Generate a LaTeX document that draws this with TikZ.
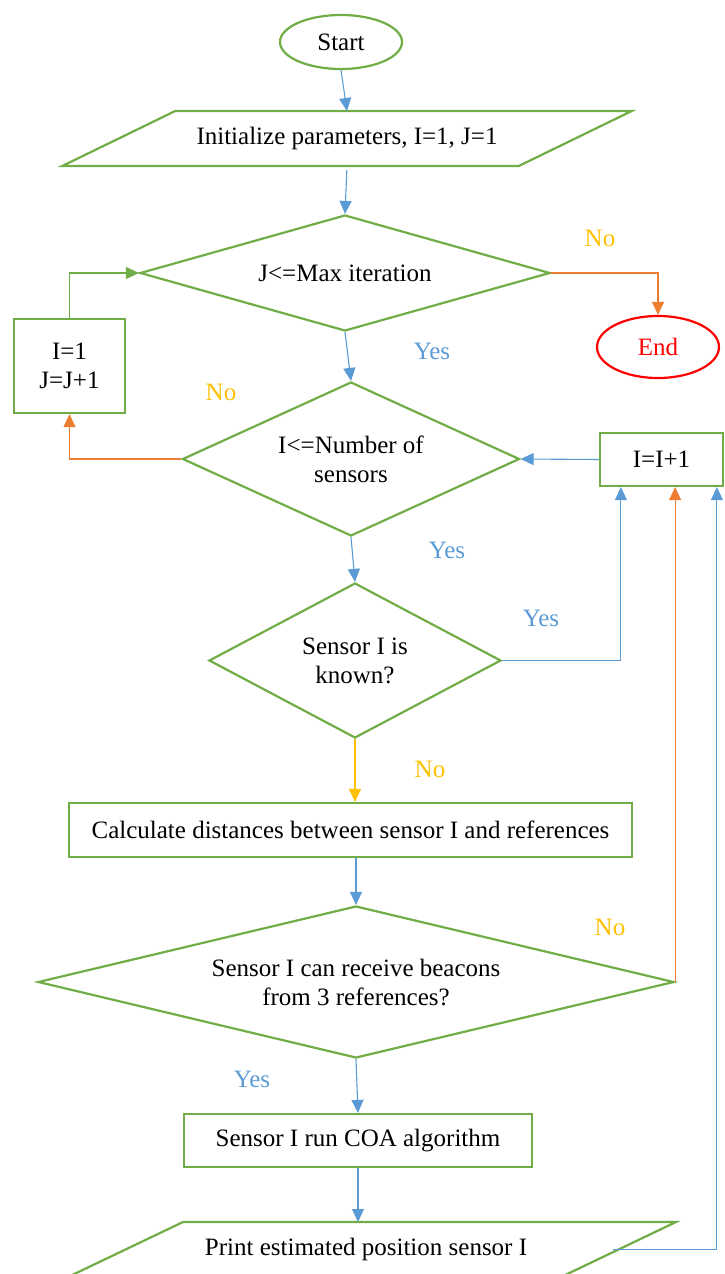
\documentclass[tikz,border=0pt]{standalone}
\usepackage{fontspec}
\setmainfont{Liberation Serif}
\usetikzlibrary{arrows.meta,shapes.geometric,calc}
\definecolor{cgreen}{HTML}{70AD47}
\definecolor{cblue}{HTML}{5B9BD5}
\definecolor{corange}{HTML}{ED7D31}
\definecolor{cyellow}{HTML}{FFC000}
\definecolor{cred}{HTML}{FF0000}
\begin{document}
\begin{tikzpicture}[x=1pt,y=-1pt,
  font=\fontsize{25}{29}\selectfont,
  boxn/.style={draw=cgreen, line width=2.2pt, rectangle, inner sep=0pt, align=center},
  dia/.style={draw=cgreen, line width=2.2pt, diamond, inner sep=0pt},
  term/.style={ellipse, line width=2.2pt, inner sep=0pt},
  para/.style={rectangle, draw=none, inner sep=0pt, outer sep=0pt},
  paraline/.style={draw=cgreen, line width=2.2pt, line join=miter},
  conn/.style={line width=1.1pt, -{Triangle[length=13pt,width=12pt]}},
  bconn/.style={conn, draw=cblue},
  oconn/.style={conn, draw=corange},
  yconn/.style={conn, draw=cyellow},
  gconn/.style={conn, draw=cgreen},
  yeslab/.style={text=cblue, inner sep=0pt},
  nolab/.style={text=cyellow, inner sep=0pt}
]
\useasboundingbox (0,0) rectangle (724,1274);
\clip (0,0) rectangle (724,1274);

% nodes
\node[term, draw=cgreen, minimum width=122pt, minimum height=54pt] (start) at (341,42) {Start};
\node[para, minimum width=456.5pt, minimum height=55pt] (init) at (347,138.5) {Initialize parameters, I=1, J=1};
\draw[paraline] ($(init.north west)+(56.5,0)$) -- ($(init.north east)+(56.5,0)$) -- ($(init.south east)+(-56.5,0)$) -- ($(init.south west)+(-56.5,0)$) -- cycle;

\node[dia, minimum width=410pt, minimum height=116pt, label={[align=center]center:{J<=Max iteration}}] (d1) at (345,273) {};
\node[term, draw=cred, text=cred, minimum width=122pt, minimum height=62pt] (endn) at (658,347) {End};
\node[boxn, minimum width=111pt, minimum height=94pt] (box1) at (69.5,366) {I=1\\J=J+1};

\node[dia, minimum width=337pt, minimum height=154pt, label={[align=center]center:{I<=Number of\\sensors}}] (d2) at (351,459) {};
\node[boxn, minimum width=123pt, minimum height=53pt] (inc) at (661.5,459.5) {I=I+1};

\node[dia, minimum width=292pt, minimum height=155pt, label={[align=center]center:{Sensor I is\\known?}}] (d3) at (355,660.5) {};
\node[boxn, minimum width=563pt, minimum height=54pt] (calc) at (350.5,830) {Calculate distances between sensor I and references};

\node[dia, minimum width=636pt, minimum height=152pt, label={[align=center]center:{Sensor I can receive beacons\\from 3 references?}}] (d4) at (356,982) {};
\node[boxn, minimum width=348pt, minimum height=53pt] (coa) at (358,1140.5) {Sensor I run COA algorithm};

\node[para, minimum width=493pt, minimum height=55pt, label={[xshift=-6pt]center:{Print estimated position sensor I}}] (print) at (372,1249.5) {};
\draw[paraline] ($(print.north west)+(57.5,0)$) -- ($(print.north east)+(57.5,0)$) -- ($(print.south east)+(-57.5,0)$) -- ($(print.south west)+(-57.5,0)$) -- cycle;

% connectors
\draw[bconn] (start.south) -- (init.north);
\draw[bconn, shorten <=4pt] (init.south) -- (d1.north);
\draw[oconn] (d1.east) -| (endn.north);
\draw[bconn] (d1.south) -- (d2.north);
\draw[oconn] (d2.west) -| (box1.south);
\draw[gconn] (box1.north) |- (d1.west);
\draw[bconn] (inc.west) -- (d2.east);
\draw[bconn] (d2.south) -- (d3.north);
\draw[bconn] (d3.east) -| ([xshift=22pt]inc.south west);
\draw[yconn] (d3.south) -- (d3.south |- calc.north);
\draw[bconn] (d4.north |- calc.south) -- (d4.north);
\draw[oconn] (d4.east) -- (d4.east |- inc.south);
\draw[bconn] (d4.south) -- (coa.north);
\draw[bconn] (coa.south) -- (coa.south |- print.north);
\draw[bconn] ([xshift=-6pt]print.east) -| ([xshift=118pt]inc.south west);

% labels
\node[nolab] (l1) at (600,238) {No};
\node[yeslab] (l2) at (432,351) {Yes};
\node[nolab] (l3) at (221,392) {No};
\node[yeslab] (l4) at (447,550) {Yes};
\node[yeslab] (l5) at (541,618) {Yes};
\node[nolab] (l6) at (430,769) {No};
\node[nolab] (l7) at (610,927) {No};
\node[yeslab] (l8) at (252,1079) {Yes};
\end{tikzpicture}
\end{document}
